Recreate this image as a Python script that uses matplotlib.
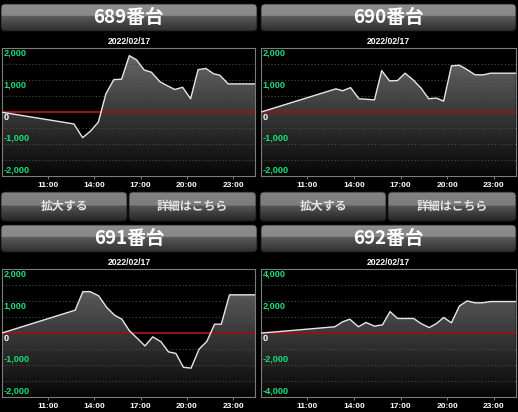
import matplotlib
matplotlib.use("Agg")
import matplotlib.pyplot as plt
import numpy as np
from matplotlib.patches import FancyBboxPatch, Polygon
from matplotlib.transforms import blended_transform_factory

# ---- data -------------------------------------------------------------
date_label = "2022/02/17"
machine_names = ["689番台", "690番台", "691番台", "692番台"]
button_labels = ["拡大する", "詳細はこちら"]
hour_ticks = [11, 14, 17, 20, 23]
hour_labels = ["11:00", "14:00", "17:00", "20:00", "23:00"]
y_ticks_2k = [2000, 1000, 0, -1000, -2000]
y_ticks_4k = [4000, 2000, 0, -2000, -4000]

times_689 = ["08:00", "12:41", "13:15", "13:46", "14:16", "14:45", "15:16", "15:46",
             "16:16", "16:44", "17:14", "17:42", "18:14", "18:43", "19:13", "19:43",
             "20:14", "20:43", "21:13", "21:44", "22:07", "22:40"]
diff_689 = [0, -370, -800, -590, -310, 570, 1020, 1030,
            1770, 1640, 1320, 1250, 960, 830, 710, 780,
            420, 1330, 1370, 1200, 1160, 885]

times_690 = ["08:00", "12:50", "13:16", "13:47", "14:19", "15:19", "15:47", "16:17",
             "16:48", "17:17", "17:47", "18:19", "18:48", "19:18", "19:46", "20:16",
             "20:47", "21:17", "21:47", "22:19", "22:47"]
diff_690 = [0, 730, 670, 770, 420, 385, 1300, 980,
            990, 1220, 1020, 750, 420, 440, 345, 1450,
            1470, 1330, 1170, 1170, 1220]

times_691 = ["08:00", "12:46", "13:16", "13:44", "14:17", "14:49", "15:19", "15:47",
             "16:17", "16:48", "17:17", "17:47", "18:19", "18:48", "19:17", "19:46",
             "20:16", "20:47", "21:17", "21:47", "22:13", "22:45"]
diff_691 = [0, 720, 1300, 1300, 1170, 800, 560, 440,
            70, -170, -400, -115, -270, -585, -635, -1070,
            -1095, -500, -260, 280, 280, 1200]

times_692 = ["08:00", "12:46", "13:16", "13:44", "14:17", "14:46", "15:19", "15:50",
             "16:19", "16:48", "17:20", "17:50", "18:19", "18:50", "19:18", "19:46",
             "20:16", "20:47", "21:17", "21:47", "22:15", "22:47"]
diff_692 = [0, 400, 710, 875, 400, 670, 440, 520,
            1350, 920, 920, 920, 600, 350, 600, 980,
            650, 1710, 2020, 1900, 1900, 1980]

# ---- figure -----------------------------------------------------------
W, H = 518, 412
fig = plt.figure(figsize=(W / 100, H / 100), dpi=100, facecolor="black")

JP = ["Noto Sans CJK JP", "DejaVu Sans"]
LAT = ["Liberation Sans", "DejaVu Sans"]

X_MIN, X_MAX = 8.0, 24.4


def to_hours(hhmm):
    h, m = hhmm.split(":")
    return int(h) + int(m) / 60.0


def px_axes(x0, y0, x1, y1):
    return fig.add_axes([x0 / W, 1 - y1 / H, (x1 - x0) / W, (y1 - y0) / H])


def hex_rgb(c):
    c = c.lstrip("#")
    return np.array([int(c[i:i + 2], 16) for i in (0, 2, 4)]) / 255.0


def draw_panel(rect, times, values, yticks):
    ax = px_axes(*rect)
    ax.set_facecolor("black")
    ymax = yticks[0]
    ax.set_xlim(X_MIN, X_MAX)
    ax.set_ylim(-ymax, ymax)

    t = [to_hours(s) for s in times] + [X_MAX]
    v = list(values) + [values[-1]]

    # vertical gray gradient under the curve
    n = 256
    top, bot = hex_rgb("#6c6c6c"), hex_rgb("#060606")
    f = np.linspace(0, 1, n)[:, None]
    grad = (top * (1 - f) + bot * f)[:, None, :]
    im = ax.imshow(grad, extent=(X_MIN, X_MAX, -ymax, ymax), origin="upper",
                   aspect="auto", zorder=1, interpolation="bilinear")
    poly = Polygon([(t[0], -ymax)] + list(zip(t, v)) + [(t[-1], -ymax)],
                   closed=True, facecolor="none", edgecolor="none")
    ax.add_patch(poly)
    im.set_clip_path(poly)

    # dotted grid
    step = ymax / 4
    for k in (-3, -2, -1, 1, 2, 3):
        ax.axhline(k * step, color="#4a4a4a", lw=0.8, ls=(0, (1, 2)), zorder=2)

    ax.axhline(0, color="#8a1818", lw=1.6, zorder=3)
    ax.plot(t, v, color="#e6e6e6", lw=1.0, zorder=4, solid_joinstyle="round")

    ax.set_xlim(X_MIN, X_MAX)
    ax.set_ylim(-ymax, ymax)

    for s in ax.spines.values():
        s.set_color("#7c7c7c")
        s.set_linewidth(0.8)

    ax.set_yticks([])
    ax.set_xticks(hour_ticks)
    ax.set_xticklabels(hour_labels, fontfamily=LAT, fontweight="bold",
                       fontsize=6.0, color="white")
    ax.tick_params(axis="x", length=2.5, width=0.7, color="#7c7c7c", pad=2)

    tr = blended_transform_factory(ax.transAxes, ax.transData)
    for yv in yticks:
        col = "white" if yv == 0 else "#19e07a"
        txt = f"{yv:,}"
        if yv >= 0:
            ax.annotate(txt, xy=(0, yv), xycoords=tr, xytext=(1.4, -0.4),
                        textcoords="offset points", va="top", ha="left",
                        fontsize=6.6, fontweight="bold", color=col,
                        fontfamily=LAT, zorder=5)
        else:
            ax.annotate(txt, xy=(0, yv), xycoords=tr, xytext=(1.4, 1.4),
                        textcoords="offset points", va="bottom", ha="left",
                        fontsize=6.6, fontweight="bold", color=col,
                        fontfamily=LAT, zorder=5)
    return ax


# overlay in pixel coordinates for header bars and buttons
ov = fig.add_axes([0, 0, 1, 1], zorder=0)
ov.set_xlim(0, W)
ov.set_ylim(H, 0)
ov.axis("off")


def gradient_bar(x0, y0, w, h, light, dark_top, dark_bot, split):
    n = 200
    rows = []
    lt = hex_rgb(light)
    lt2 = lt * 0.96
    dt, db = hex_rgb(dark_top), hex_rgb(dark_bot)
    for i in range(n):
        f = i / (n - 1)
        if f < split:
            g = f / split
            rows.append(lt * (1 - g) + lt2 * g)
        else:
            g = (f - split) / (1 - split)
            rows.append(dt * (1 - g) + db * g)
    arr = np.array(rows)[:, None, :]
    im = ov.imshow(arr, extent=(x0, x0 + w, y0 + h, y0), origin="upper",
                   aspect="auto", interpolation="bilinear", zorder=1)
    box = FancyBboxPatch((x0, y0), w, h, boxstyle="round,pad=0,rounding_size=4",
                         facecolor="none", edgecolor="#1a1a1a", lw=0.6, zorder=2)
    ov.add_patch(box)
    im.set_clip_path(box)


col_x = [(1, 257), (261, 516)]
row_y = [0, 221]

for idx, name in enumerate(machine_names):
    r, c = divmod(idx, 2)
    x0, x1 = col_x[c]
    dy = row_y[r]
    gradient_bar(x0, 4 + dy, x1 - x0, 27, "#8e8e8e", "#5c5c5c", "#2e2e2e", 0.44)
    ov.text((x0 + x1) / 2, 17.5 + dy, name, ha="center", va="center",
            fontsize=13.5, fontweight="bold", color="white", fontfamily=JP, zorder=3)
    ov.text((x0 + x1) / 2, 41.5 + dy, date_label, ha="center", va="center",
            fontsize=6.2, fontweight="bold", color="white", fontfamily=LAT, zorder=3)

ov.set_xlim(0, W)
ov.set_ylim(H, 0)

# buttons under the top row
btn_x = [(1, 127), (129, 256), (260, 386), (388, 516)]
for i, (bx0, bx1) in enumerate(btn_x):
    gradient_bar(bx0, 192, bx1 - bx0, 29, "#828282", "#565656", "#252525", 0.47)
    ov.text((bx0 + bx1) / 2, 206.5, button_labels[i % 2], ha="center", va="center",
            fontsize=8.6, fontweight="bold", color="#e4e4e4", fontfamily=JP, zorder=3)

ov.set_xlim(0, W)
ov.set_ylim(H, 0)

panels = [
    ((1.5, 48.3, 255, 176), times_689, diff_689, y_ticks_2k),
    ((260.7, 48.3, 515.7, 176), times_690, diff_690, y_ticks_2k),
    ((1.5, 269.3, 255, 397), times_691, diff_691, y_ticks_2k),
    ((260.7, 269.3, 515.7, 397), times_692, diff_692, y_ticks_4k),
]
for rect, tms, vals, yt in panels:
    draw_panel(rect, tms, vals, yt)

fig.savefig("out.png", dpi=100, facecolor="black")
